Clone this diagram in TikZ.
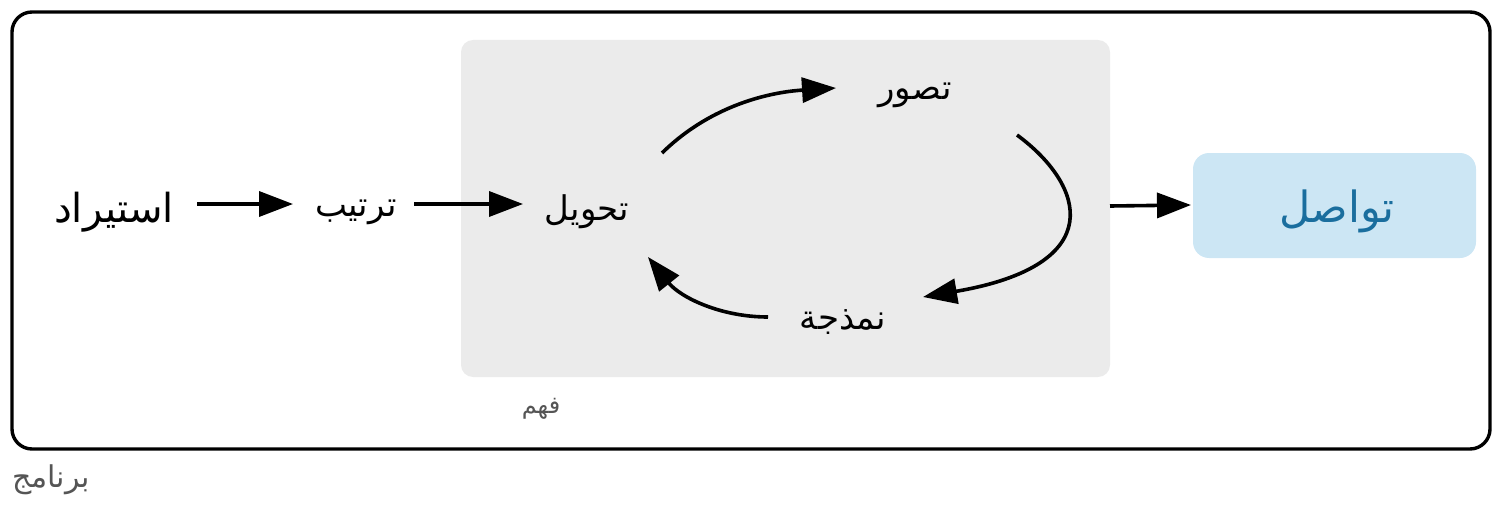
\documentclass[tikz,border=0pt]{standalone}
\usepackage{fontspec}
\newfontfamily\arabicfont[Script=Arabic]{DejaVu Sans}
\TeXXeTstate=1
\usetikzlibrary{arrows.meta}
\definecolor{greybox}{HTML}{EBEBEB}
\definecolor{bluebox}{HTML}{CCE6F4}
\definecolor{bluetext}{HTML}{1A6E9E}
\definecolor{labelgrey}{HTML}{555555}
\tikzset{
  x=0.5pt, y=-0.5pt,
  lbl/.style={font=\arabicfont\fontsize{17}{19}\selectfont, inner sep=0pt},
  flow/.style={line width=1.8pt, -{Triangle[length=17pt,width=12.5pt]}},
}
\begin{document}
\begin{tikzpicture}
\useasboundingbox (0,0) rectangle (1504,508);
\draw[line width=1.7pt, rounded corners=10pt] (12,12) rectangle (1490,449);
\fill[greybox, rounded corners=6pt] (461,40) rectangle (1110,377);
\fill[bluebox, rounded corners=8pt] (1193,153) rectangle (1476,258);
\node[lbl, font=\arabicfont\fontsize{20}{22}\selectfont] (import) at (114,212) {\beginR استيراد\endR};
\node[lbl] (tidy) at (356,212) {\beginR ترتيب\endR};
\node[lbl] (transform) at (587,212) {\beginR تحويل\endR};
\node[lbl] (visualize) at (915,95) {\beginR تصور\endR};
\node[lbl] (model) at (843,322) {\beginR نمذجة\endR};
\node[lbl, text=bluetext, font=\arabicfont\fontsize{21.5}{23}\selectfont] (communicate) at (1337,211) {\beginR تواصل\endR};
\node[lbl, text=labelgrey, font=\arabicfont\fontsize{12}{14}\selectfont] (understand) at (541,409) {\beginR فهم\endR};
\node[lbl, text=labelgrey, font=\arabicfont\fontsize{15}{17}\selectfont] (program) at (51,480) {\beginR برنامج\endR};
\coordinate (a1s) at (197,204); \coordinate (a1e) at (293,204);
\coordinate (a2s) at (414,204); \coordinate (a2e) at (523,204);
\coordinate (c1s) at (662,153); \coordinate (c1e) at (836,88);
\coordinate (c2s) at (1017,135); \coordinate (c2e) at (923,297);
\coordinate (c3s) at (768,317); \coordinate (c3e) at (648,257);
\coordinate (a3s) at (1110,206); \coordinate (a3e) at (1191,205);
\draw[flow] (a1s) -- (a1e);
\draw[flow] (a2s) -- (a2e);
\draw[flow] (c1s) .. controls (712,104) and (772,92) .. (c1e);
\draw[flow] (c2s) .. controls (1085,185) and (1110,265) .. (c2e);
\draw[flow] (c3s) .. controls (720,317) and (680,297) .. (c3e);
\draw[flow] (a3s) -- (a3e);
\end{tikzpicture}
\end{document}
